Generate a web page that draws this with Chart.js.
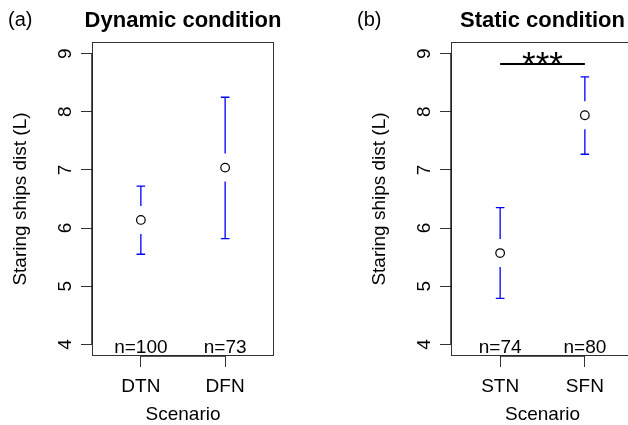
<!DOCTYPE html>
<html>
<head>
<meta charset="utf-8">
<script src="https://cdn.jsdelivr.net/npm/chart.js@4.4.1/dist/chart.umd.min.js"></script>
<style>
  html, body { margin: 0; padding: 0; background: #fff; }
  #wrap { position: relative; width: 628px; height: 425px; overflow: hidden; }
  canvas { position: absolute; top: 0; }
</style>
</head>
<body>
<div id="wrap">
  <canvas id="dynChart" width="314" height="425" style="left:0px"></canvas>
  <canvas id="statChart" width="324" height="425" style="left:349px"></canvas>
</div>
<script>
// (a) dynamic condition
var dynScenarios = ['DTN', 'DFN'];
var dynMeans = [6.14, 7.04];
var dynLower = [5.55, 5.82];
var dynUpper = [6.72, 8.25];
var dynCounts = ['n=100', 'n=73'];

// (b) static condition
var statScenarios = ['STN', 'SFN'];
var statMeans = [5.57, 7.94];
var statLower = [4.79, 7.27];
var statUpper = [6.35, 8.60];
var statCounts = ['n=74', 'n=80'];

var yTicks = [4, 5, 6, 7, 8, 9];
var sigLevel = 8.82;   // height of the significance bar in panel (b)
var sigText = '***';

var FONT = "'Liberation Sans', Arial, Helvetica, sans-serif";
Chart.defaults.font.family = FONT;
Chart.defaults.font.size = 19;
Chart.defaults.color = '#000';

// box, error bars and extra text, R style
function makeDecor(cfg) {
    return {
        id: 'decor',
        afterDatasetsDraw: function(chart) {
            var ctx = chart.ctx, a = chart.chartArea;
            var xs = chart.scales.x, ys = chart.scales.y;
            ctx.save();
            ctx.strokeStyle = '#333';
            ctx.lineWidth = 1;
            ctx.strokeRect(a.left + 0.5, a.top + 0.5, a.right - a.left - 1, a.bottom - a.top - 1);
            // axis lines over the box
            ctx.strokeStyle = '#222';
            ctx.lineWidth = 1.5;
            ctx.beginPath();
            ctx.moveTo(xs.getPixelForValue(1), a.bottom);
            ctx.lineTo(xs.getPixelForValue(cfg.labels.length), a.bottom);
            ctx.moveTo(a.left, ys.getPixelForValue(yTicks[0]));
            ctx.lineTo(a.left, ys.getPixelForValue(yTicks[yTicks.length - 1]));
            ctx.stroke();

            ctx.strokeStyle = '#0000ff';
            ctx.lineWidth = 1.3;
            var gap = 14, cap = 4.3;
            cfg.means.forEach(function(m, i) {
                var x = xs.getPixelForValue(i + 1);
                var yM = ys.getPixelForValue(m);
                var yU = ys.getPixelForValue(cfg.upper[i]);
                var yL = ys.getPixelForValue(cfg.lower[i]);
                ctx.beginPath();
                if (yM - yU > gap) { ctx.moveTo(x, yU); ctx.lineTo(x, yM - gap); }
                if (yL - yM > gap) { ctx.moveTo(x, yM + gap); ctx.lineTo(x, yL); }
                ctx.moveTo(x - cap, yU); ctx.lineTo(x + cap, yU);
                ctx.moveTo(x - cap, yL); ctx.lineTo(x + cap, yL);
                ctx.stroke();
            });
            ctx.restore();
        },
        afterDraw: function(chart) {
            var ctx = chart.ctx, a = chart.chartArea;
            var xs = chart.scales.x, ys = chart.scales.y;
            ctx.save();
            ctx.fillStyle = '#000';
            ctx.textBaseline = 'alphabetic';

            ctx.font = 'bold 22px ' + FONT;
            ctx.textAlign = 'center';
            ctx.fillText(cfg.title, (a.left + a.right) / 2, 27);

            ctx.font = '20px ' + FONT;
            ctx.textAlign = 'left';
            ctx.fillText(cfg.panel, 8, 26);

            ctx.font = '19px ' + FONT;
            ctx.textAlign = 'center';
            cfg.counts.forEach(function(t, i) {
                ctx.fillText(t, xs.getPixelForValue(i + 1), ys.getPixelForValue(yTicks[0]) + 8.5);
            });

            if (cfg.sig) {
                var x1 = xs.getPixelForValue(1), x2 = xs.getPixelForValue(2);
                var y = ys.getPixelForValue(sigLevel);
                ctx.strokeStyle = '#000';
                ctx.lineWidth = 2;
                ctx.beginPath();
                ctx.moveTo(x1, y); ctx.lineTo(x2, y);
                ctx.stroke();
                ctx.font = '35px ' + FONT;
                ctx.fillText(sigText, (x1 + x2) / 2, y + 12);
            }
            ctx.restore();
        }
    };
}

function makePanel(id, cfg) {
    var ctx = document.getElementById(id).getContext('2d');
    return new Chart(ctx, {
        type: 'scatter',
        data: {
            datasets: [{
                data: cfg.means.map(function(m, i) { return {x: i + 1, y: m}; }),
                borderColor: '#000',
                backgroundColor: 'rgba(0,0,0,0)',
                pointRadius: 4.3,
                pointHoverRadius: 4.3,
                pointBorderWidth: 1.2
            }]
        },
        options: {
            responsive: false,
            animation: false,
            events: [],
            layout: {
                padding: {left: cfg.padLeft, top: 42, right: cfg.padRight, bottom: 0}
            },
            plugins: {
                legend: {display: false},
                tooltip: {enabled: false}
            },
            scales: {
                x: {
                    type: 'linear',
                    min: 0.42,
                    max: 2.58,
                    afterBuildTicks: function(s) {
                        s.ticks = cfg.labels.map(function(l, i) { return {value: i + 1}; });
                    },
                    afterFit: function(s) { s.height = 69; },
                    ticks: {
                        padding: 8,
                        autoSkip: false,
                        maxRotation: 0,
                        callback: function(v) { return cfg.labels[v - 1]; }
                    },
                    grid: {drawOnChartArea: false, tickLength: 11, color: '#333', lineWidth: 1},
                    border: {display: false},
                    title: {
                        display: true,
                        text: 'Scenario',
                        font: {size: 19, lineHeight: 1},
                        padding: {top: 0, bottom: 1}
                    }
                },
                y: {
                    type: 'linear',
                    min: 3.8,
                    max: 9.2,
                    afterBuildTicks: function(s) {
                        s.ticks = yTicks.map(function(v) { return {value: v}; });
                    },
                    afterFit: function(s) { s.width = 92; },
                    ticks: {
                        padding: 10,
                        minRotation: 90,
                        maxRotation: 90,
                        crossAlign: 'center'
                    },
                    grid: {drawOnChartArea: false, tickLength: 11, color: '#333', lineWidth: 1},
                    border: {display: false},
                    title: {
                        display: true,
                        text: 'Staring ships dist (L)',
                        font: {size: 19, lineHeight: 1},
                        padding: {top: 11.5, bottom: 0}
                    }
                }
            }
        },
        plugins: [makeDecor(cfg)]
    });
}

makePanel('dynChart', {
    labels: dynScenarios, means: dynMeans, lower: dynLower, upper: dynUpper, counts: dynCounts,
    title: 'Dynamic condition', panel: '(a)', padLeft: 0, padRight: 40, sig: false
});
makePanel('statChart', {
    labels: statScenarios, means: statMeans, lower: statLower, upper: statUpper, counts: statCounts,
    title: 'Static condition', panel: '(b)', padLeft: 10, padRight: 39, sig: true
});
</script>
</body>
</html>
